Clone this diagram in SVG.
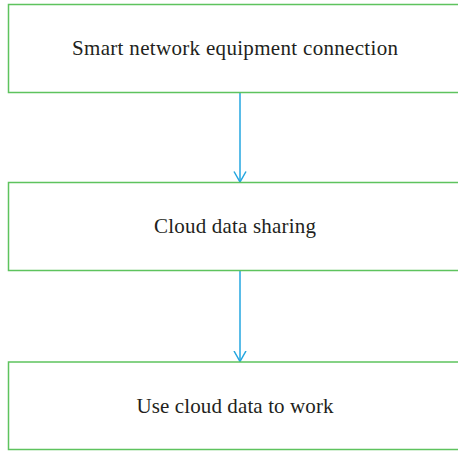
<svg xmlns="http://www.w3.org/2000/svg" width="458" height="451" viewBox="0 0 458 451">
  <style>
    .box { fill: #ffffff; stroke: #5ec35e; stroke-width: 1.5; }
    .label { font-family: "Liberation Serif", "Times New Roman", serif; font-size: 21px; fill: #231f20; text-anchor: middle; }
    .flow { stroke: #23a6e0; stroke-width: 1.5; fill: none; }
  </style>
  <defs>
    <!-- open V arrowhead, drawn pointing along +x so orient="auto" follows the line -->
    <marker id="arrow" viewBox="0 0 12 14" refX="11" refY="7" markerWidth="12" markerHeight="14" markerUnits="userSpaceOnUse" orient="auto">
      <path d="M0.5 1 L11 7 L0.5 13" fill="none" stroke="#23a6e0" stroke-width="1.5"/>
    </marker>
  </defs>
  <rect width="458" height="451" fill="#ffffff"/>

  <g id="connectors">
    <line class="flow" x1="240" y1="92.5" x2="240" y2="182" marker-end="url(#arrow)"/>
    <line class="flow" x1="240" y1="271" x2="240" y2="361.5" marker-end="url(#arrow)"/>
  </g>

  <g id="node-connection">
    <rect class="box" x="8.5" y="4.5" width="460" height="88"/>
    <text class="label" x="235" y="55" textLength="326" lengthAdjust="spacing">Smart network equipment connection</text>
  </g>

  <g id="node-sharing">
    <rect class="box" x="8.5" y="182.5" width="460" height="88"/>
    <text class="label" x="235" y="233" textLength="162" lengthAdjust="spacing">Cloud data sharing</text>
  </g>

  <g id="node-work">
    <rect class="box" x="8.5" y="362" width="460" height="87.5"/>
    <text class="label" x="235" y="412.5" textLength="197" lengthAdjust="spacing">Use cloud data to work</text>
  </g>
</svg>
